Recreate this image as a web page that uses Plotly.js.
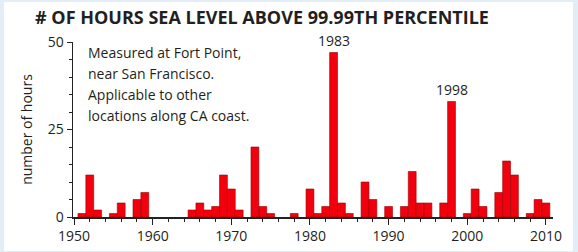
<!DOCTYPE html>
<html>
<head>
<meta charset="utf-8">
<script src="https://cdn.plot.ly/plotly-3.0.1.min.js"></script>
<style>
  html, body { margin: 0; padding: 0; background: #e3edf8; width: 578px; height: 252px; overflow: hidden; }
  #chart { position: absolute; left: 4px; top: 2px; width: 569px; height: 249px; background: #ffffff; }
</style>
</head>
<body>
<div id="chart"></div>
<script>
const years = [1950,1951,1952,1953,1954,1955,1956,1957,1958,1959,
               1960,1961,1962,1963,1964,1965,1966,1967,1968,1969,
               1970,1971,1972,1973,1974,1975,1976,1977,1978,1979,
               1980,1981,1982,1983,1984,1985,1986,1987,1988,1989,
               1990,1991,1992,1993,1994,1995,1996,1997,1998,1999,
               2000,2001,2002,2003,2004,2005,2006,2007,2008,2009,2010];
const hours = [0,1,12,2,0,1,4,0,5,7,
               0,0,0,0,0,2,4,2,3,12,
               8,2,0,20,3,1,0,0,1,0,
               8,1,3,47,4,1,0,10,5,0,
               3,0,3,13,4,4,0,4,33,0,
               1,8,3,0,7,16,12,0,1,5,4];
const xTickVals = [1950,1960,1970,1980,1990,2000,2010];
const yTickVals = [0,25,50];
const highlightYears = [1983,1998];
const titleText = "# OF HOURS SEA LEVEL ABOVE 99.99TH PERCENTILE";
const noteLines = ["Measured at Fort Point,", "near San Francisco.", "Applicable to other", "locations along CA coast."];
const yTitle = "number of hours";

const bx = [], by = [];
years.forEach((y, i) => { if (hours[i] > 0) { bx.push(y); by.push(hours[i]); } });

const textColor = "#231f20";
const fontFam = "'Open Sans', 'Noto Sans', sans-serif";

const trace = {
  type: "bar",
  x: bx, y: by,
  width: 1,
  marker: { color: "#f2000d", line: { color: "#9a0000", width: 0.6 } },
  hoverinfo: "x+y"
};

const annotations = highlightYears.map(yr => ({
  x: yr, y: hours[years.indexOf(yr)], xref: "x", yref: "y",
  text: String(yr), showarrow: false, yanchor: "bottom", yshift: 1,
  font: { family: fontFam, size: 14, color: textColor }
}));
const lineStep = 21 / 175;
noteLines.forEach((ln, i) => {
  annotations.push({
    x: 0.028, y: 1.004 - i * lineStep, xref: "paper", yref: "paper", xanchor: "left", yanchor: "top",
    align: "left", showarrow: false, text: ln,
    font: { family: fontFam, size: 14, color: textColor }
  });
});

const layout = {
  width: 569, height: 249,
  margin: { l: 69.3, r: 20, t: 39.7, b: 34.3 },
  paper_bgcolor: "#ffffff", plot_bgcolor: "#ffffff",
  showlegend: false,
  bargap: 0,
  title: {
    text: "<b>" + titleText + "</b>",
    x: 0.4534, xref: "container", xanchor: "center",
    y: 0.936, yref: "container", yanchor: "middle",
    font: { family: fontFam, size: 18, color: textColor }
  },
  xaxis: {
    range: [1949.87, 2010.9],
    tickvals: xTickVals, ticktext: xTickVals.map(String),
    ticks: "outside", ticklen: 6, tickwidth: 1, tickcolor: "#222",
    minor: { dtick: 2, tick0: 1950, ticks: "outside", ticklen: 3, tickwidth: 1, tickcolor: "#222" },
    showgrid: false, zeroline: false,
    showline: true, linecolor: "#222", linewidth: 1.5,
    tickfont: { family: fontFam, size: 14, color: textColor },
    fixedrange: true
  },
  yaxis: {
    range: [0, 50],
    tickvals: yTickVals, ticktext: yTickVals.map(String),
    ticks: "outside", ticklen: 5, tickwidth: 1, tickcolor: "#222",
    minor: { dtick: 5, tick0: 0, ticks: "outside", ticklen: 3, tickwidth: 1, tickcolor: "#222" },
    showgrid: false, zeroline: false,
    showline: true, linecolor: "#222", linewidth: 1.5,
    tickfont: { family: fontFam, size: 14, color: textColor },
    title: { text: yTitle, standoff: 12, font: { family: fontFam, size: 14, color: textColor } },
    fixedrange: true
  },
  annotations: annotations
};

Plotly.newPlot("chart", [trace], layout, { displayModeBar: false, staticPlot: true });
</script>
</body>
</html>
